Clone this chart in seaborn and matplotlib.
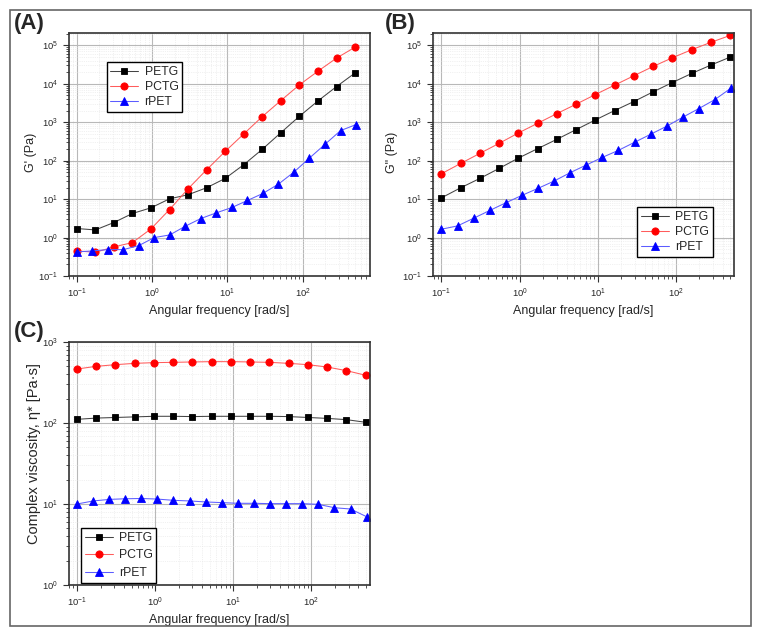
import matplotlib
matplotlib.use("Agg")
import matplotlib.pyplot as plt
import pandas as pd
import seaborn as sns
from matplotlib.patches import Rectangle

# angular frequency [rad/s]
freq_16 = [0.1, 0.177, 0.311, 0.549, 0.968, 1.71, 3.01, 5.31, 9.37, 16.5,
           29.1, 51.4, 90.6, 160, 282, 500]
freq_19 = [0.1, 0.161, 0.259, 0.415, 0.667, 1.07, 1.72, 2.77, 4.45, 7.15,
           11.5, 18.5, 29.7, 47.7, 76.6, 123, 198, 318, 510]

# storage modulus G' (Pa)
g1_petg = [1.72, 1.58, 2.46, 4.23, 5.94, 10.2, 13.0, 19.8, 34.6, 78.6,
           198, 537, 1435, 3605, 8510, 19400]
g1_pctg = [0.449, 0.414, 0.571, 0.741, 1.68, 5.37, 18.6, 58.2, 175, 496,
           1406, 3675, 9420, 21400, 46800, 90600]
g1_rpet = [0.423, 0.449, 0.486, 0.486, 0.618, 1.0, 1.17, 1.98, 3.13, 4.4,
           6.07, 9.23, 14.1, 24.6, 50.6, 117, 267, 606, 869]

# loss modulus G'' (Pa)
g2_petg = [10.8, 19.8, 34.6, 63.1, 117, 206, 360, 644, 1150, 2015,
           3460, 6180, 10800, 18600, 30700, 49700]
g2_pctg = [45.8, 85.2, 155, 283, 527, 942, 1680, 2950, 5270, 9230,
           16200, 28300, 47600, 77100, 120000, 182000]
g2_rpet = [1.65, 2.01, 3.19, 5.06, 8.02, 12.5, 19.0, 29.5, 48.7, 77.1,
           122, 186, 301, 486, 787, 1350, 2270, 3900, 7710]

# complex viscosity (Pa s)
eta_petg = [111, 115, 117, 119, 121, 121, 120, 121, 121, 121,
            121, 120, 117, 114, 110, 102]
eta_pctg = [464, 501, 525, 545, 556, 561, 567, 572, 572, 567,
            561, 545, 525, 491, 443, 388]
eta_rpet = [10.0, 10.9, 11.4, 11.6, 11.7, 11.5, 11.1, 10.9, 10.6, 10.4,
            10.2, 10.2, 10.1, 10.1, 10.1, 9.9, 9.0, 8.67, 6.98]

materials = ["PETG", "PCTG", "rPET"]
styles = {
    "PETG": dict(marker="s", color="black", line="#444444", ms=4.4),
    "PCTG": dict(marker="o", color="red", line="#ff5c5c", ms=5.2),
    "rPET": dict(marker="^", color="blue", line="#5c5cff", ms=5.8),
}

sns.set_theme(style="ticks")
plt.rcParams["font.family"] = ["Liberation Sans", "DejaVu Sans"]

fig = plt.figure(figsize=(7.61, 6.37), dpi=100)
W, H = 761, 637


def px_axes(left, top, right, bottom):
    return fig.add_axes([left / W, 1 - bottom / H, (right - left) / W, (bottom - top) / H])


def draw(ax, series, xlim, ylim, ylabel, ylab_size, ylab_xy, legend_loc, legend_anchor, lspace):
    for name in materials:
        x, y = series[name]
        df = pd.DataFrame({"freq": x, "val": y})
        st = styles[name]
        sns.lineplot(data=df, x="freq", y="val", ax=ax, color=st["line"], lw=0.75,
                     marker=st["marker"], markersize=st["ms"], markerfacecolor=st["color"],
                     markeredgecolor=st["color"], markeredgewidth=0.6, label=name, sort=False)
    ax.set_xscale("log")
    ax.set_yscale("log")
    ax.set_xlim(*xlim)
    ax.set_ylim(*ylim)
    ax.grid(which="major", color="#b8b8b8", lw=0.8)
    ax.grid(which="minor", color="#e4e4e4", lw=0.5, ls=":")
    ax.set_axisbelow(True)
    ax.tick_params(which="major", labelsize=6.8, length=4, width=0.8, color="#333333", pad=4)
    ax.tick_params(which="minor", length=2, width=0.6, color="#333333")
    for sp in ax.spines.values():
        sp.set_color("#333333")
        sp.set_linewidth(1.2)
    ax.set_xlabel("Angular frequency [rad/s]", fontsize=9, labelpad=3)
    ax.set_ylabel(ylabel, fontsize=ylab_size)
    ax.yaxis.set_label_coords(*ylab_xy)
    ax.legend(loc=legend_loc, bbox_to_anchor=legend_anchor, fontsize=8.8, fancybox=False,
              edgecolor="black", framealpha=1, borderpad=0.3, labelspacing=lspace,
              handlelength=2.3, handletextpad=0.5, borderaxespad=0)


ax_a = px_axes(69, 33, 370, 276)
draw(ax_a, {"PETG": (freq_16, g1_petg), "PCTG": (freq_16, g1_pctg), "rPET": (freq_19, g1_rpet)},
     (0.079, 783), (0.1, 2.1e5), "G' (Pa)", 9, (-0.106, 0.51),
     "upper left", (0.125, 0.88), 0.25)

ax_b = px_axes(433, 33, 734, 276)
draw(ax_b, {"PETG": (freq_16, g2_petg), "PCTG": (freq_16, g2_pctg), "rPET": (freq_19, g2_rpet)},
     (0.078, 558), (0.1, 2.1e5), 'G" (Pa)', 9, (-0.116, 0.51),
     "lower right", (0.93, 0.08), 0.25)

ax_c = px_axes(69, 342, 370, 585)
draw(ax_c, {"PETG": (freq_16, eta_petg), "PCTG": (freq_16, eta_pctg), "rPET": (freq_19, eta_rpet)},
     (0.079, 565), (1, 1000), "Complex viscosity, \u03b7* [Pa\u00b7s]", 10.5, (-0.093, 0.54),
     "lower left", (0.04, 0.01), 0.45)

for label, (x, y) in {"(A)": (14, 23), "(B)": (385, 23), "(C)": (14, 331)}.items():
    fig.text(x / W, 1 - y / H, label, fontsize=16, fontweight="bold", va="center", ha="left")

fig.patches.append(Rectangle((10 / W, 1 - 626 / H), 741 / W, 616 / H, transform=fig.transFigure,
                             fill=False, edgecolor="#666666", lw=1.2))

fig.savefig("out.png", dpi=100)
plt.close(fig)
